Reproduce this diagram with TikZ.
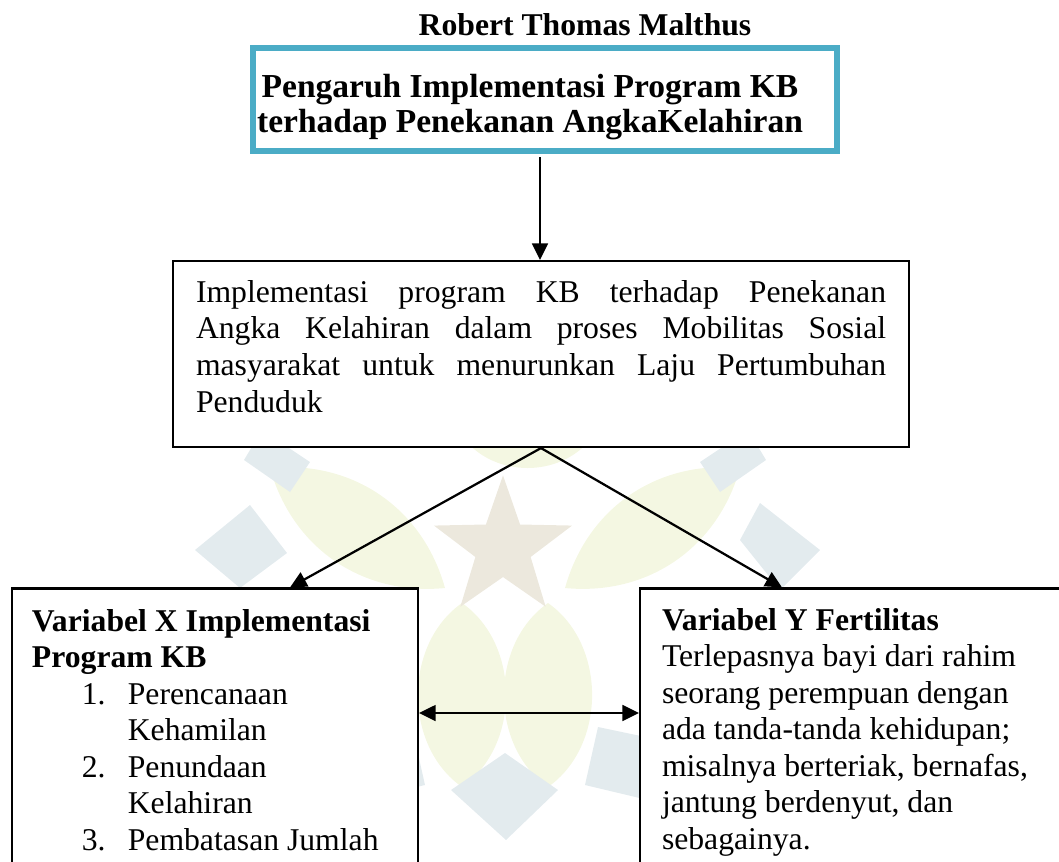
\documentclass[tikz,border=0pt]{standalone}
\usepackage{fontspec}
\setmainfont{Liberation Serif}
\usetikzlibrary{arrows.meta,fit,shapes.geometric}
\definecolor{kbblue}{HTML}{4BACC6}
\definecolor{wmblue}{HTML}{E3EBEE}
\definecolor{wmleaf}{HTML}{F4F7E2}
\definecolor{wmstarc}{HTML}{ECE8DD}
\tikzset{
  px/.style={x=0.3788pt,y=-0.3788pt},
  plainbox/.style={draw=black, line width=0.8pt, fill=white, inner sep=0pt},
  titlebox/.style={draw=kbblue, line width=2.27pt, fill=white, inner sep=0pt},
  arr/.style={line width=0.85pt, -{Triangle[length=6.3pt,width=6pt]}},
  dblarr/.style={line width=0.85pt, {Triangle[length=6.3pt,width=6pt]}-{Triangle[length=6.3pt,width=6pt]}},
  txt/.style={inner sep=0pt, outer sep=0pt},
  leaf/.style={fill=wmleaf, draw=none},
  rhomb/.style={fill=wmblue, draw=none},
}
\begin{document}
\begin{tikzpicture}[px]
\useasboundingbox (0,0) rectangle (1059,861);
\clip (0,0) rectangle (1059,861);
% ---- watermark (faint logo) ----
\fill[leaf] (462,603) to[bend left=55] (462,787) to[bend left=55] cycle;
\fill[leaf] (548,603) to[bend left=55] (548,787) to[bend left=55] cycle;
\fill[leaf] (270,468) to[bend left=40] (445,588) to[bend left=40] cycle;
\fill[leaf] (740,468) to[bend left=40] (565,588) to[bend left=40] cycle;
\fill[leaf] (465,440) to[bend left=50] (590,440) to[bend left=50] cycle;
\fill[rhomb] (250,505) -- (287,553) -- (240,588) -- (195,550) -- cycle;
\fill[rhomb] (262,430) -- (310,462) -- (290,492) -- (244,460) -- cycle;
\fill[rhomb] (760,503) -- (820,550) -- (780,590) -- (740,540) -- cycle;
\fill[rhomb] (748,430) -- (700,462) -- (720,492) -- (766,460) -- cycle;
\fill[rhomb] (505,753) -- (558,790) -- (506,840) -- (451,790) -- cycle;
\fill[rhomb] (598,727) -- (660,740) -- (648,800) -- (585,785) -- cycle;
\fill[rhomb] (412,727) -- (350,740) -- (362,800) -- (425,785) -- cycle;
\node[star, star points=5, star point ratio=2.5, fill=wmstarc, minimum size=55pt, inner sep=0pt] (wmstar) at (503,548) {};
% ---- boxes ----
\node[titlebox, fit={(252.7,48.3) (837,151.2)}] (top) {};
\node[plainbox, fit={(173,261) (909,447)}] (mid) {};
\node[plainbox, fit={(12,588.5) (418,905)}] (lbox) {};
\node[plainbox, fit={(640,588.5) (1105,905)}] (rbox) {};
% ---- texts ----
\node[txt, anchor=base, font=\bfseries\fontsize{12}{14}\selectfont] (title) at (585,35) {Robert Thomas Malthus};
\node[txt, anchor=base] (toptext) at (530,97) {\parbox[t]{240pt}{\centering\bfseries\fontsize{12.7}{13.3}\selectfont Pengaruh Implementasi Program KB\\terhadap Penekanan AngkaKelahiran}};
\node[txt, anchor=base west] (midtext) at (196,302) {\parbox[t]{261.4pt}{\fontsize{12}{13.9}\selectfont\makebox[261.4pt][s]{Implementasi program KB terhadap Penekanan}\\\makebox[261.4pt][s]{Angka Kelahiran dalam proses Mobilitas Sosial}\\\makebox[261.4pt][s]{masyarakat untuk menurunkan Laju Pertumbuhan}\\Penduduk}};
\node[txt, anchor=base west] (ltext) at (32,631) {\parbox[t]{160pt}{\raggedright\fontsize{12}{13.83}\selectfont\textbf{Variabel X Implementasi}\\\textbf{Program KB}\\\hspace*{18.9pt}\makebox[17.4pt][l]{1.}Perencanaan\\\hspace*{36.3pt}Kehamilan\\\hspace*{18.9pt}\makebox[17.4pt][l]{2.}Penundaan\\\hspace*{36.3pt}Kelahiran\\\hspace*{18.9pt}\makebox[17.4pt][l]{3.}Pembatasan Jumlah}};
\node[txt, anchor=base west] (rtext) at (662,630) {\parbox[t]{170pt}{\raggedright\fontsize{12}{13.83}\selectfont\textbf{Variabel Y Fertilitas}\\Terlepasnya bayi dari rahim\\seorang perempuan dengan\\ada tanda-tanda kehidupan;\\misalnya berteriak, bernafas,\\jantung berdenyut, dan\\sebagainya.}};
% ---- connectors ----
\coordinate (vx) at (540,0);
\coordinate (lx) at (290,0);
\coordinate (rx) at (782,0);
\coordinate (dy) at (0,713);
\coordinate (topb) at ([yshift=-1.1pt]top.south);
\draw[arr] (topb -| vx) -- (mid.north -| vx);
\draw[arr] (mid.south) -- (lbox.north -| lx);
\draw[arr] (mid.south) -- (rbox.north -| rx);
\draw[dblarr] (lbox.east |- dy) -- (rbox.west |- dy);
\end{tikzpicture}
\end{document}
